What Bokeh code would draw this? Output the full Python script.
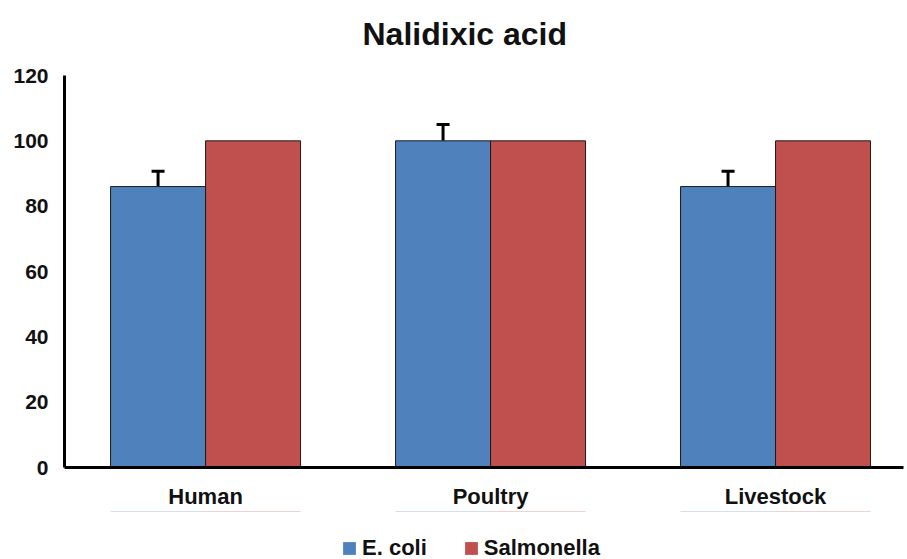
from bokeh.plotting import figure
from bokeh.layouts import column
from bokeh.models import Range1d, FixedTicker, ColumnDataSource, Whisker, TeeHead, Legend, LegendItem, Title
from bokeh.embed import file_html
from bokeh.resources import INLINE

categories = ["Human", "Poultry", "Livestock"]
series_names = ["E. coli", "Salmonella"]
ecoli = [86, 100, 86]
ecoli_err = [4.7, 5.0, 4.7]
salmonella = [100, 100, 100]
y_ticks = [0, 20, 40, 60, 80, 100, 120]

colors = ["#4F81BD", "#C0504D"]
FONT = "Liberation Sans"

idx = list(range(len(categories)))
bw = 1/3.0

p = figure(frame_width=839, frame_height=392, output_backend="svg", toolbar_location=None,
           x_range=Range1d(-0.495, 2.449), y_range=Range1d(0, 120),
           min_border_left=64, min_border_right=4, min_border_top=75,
           min_border_bottom=0)

spacer = Title(text=" ", text_font_size="8px", standoff=0)
p.add_layout(spacer, "above")

p.title.text = "Nalidixic acid"
p.title.align = "left"
p.title.offset = 298
p.title.vertical_align = "top"
p.title.text_font = FONT
p.title.text_font_size = "32px"
p.title.text_font_style = "bold"
p.title.text_color = "#111111"
p.title.standoff = 21

src_e = ColumnDataSource(dict(x=[i - bw/2 for i in idx], top=ecoli,
                              upper=[v + e for v, e in zip(ecoli, ecoli_err)]))
src_s = ColumnDataSource(dict(x=[i + bw/2 for i in idx], top=salmonella))

p.vbar(x="x", top="top", width=bw, source=src_e, fill_color=colors[0],
       line_color="#1a1a1a", line_width=1)
p.vbar(x="x", top="top", width=bw, source=src_s, fill_color=colors[1],
       line_color="#1a1a1a", line_width=1)

w = Whisker(source=src_e, base="x", lower="top", upper="upper",
            line_color="black", line_width=3, lower_head=None,
            upper_head=TeeHead(size=13, line_width=3, line_color="black"))
p.add_layout(w)

p.xgrid.visible = False
p.ygrid.visible = False
p.outline_line_color = None

p.yaxis.ticker = FixedTicker(ticks=y_ticks)
p.yaxis.major_tick_line_color = None
p.yaxis.minor_tick_line_color = None
p.yaxis.axis_line_width = 3
p.yaxis.axis_line_color = "black"
p.yaxis.major_label_standoff = 10
p.yaxis.major_label_text_font = FONT
p.yaxis.major_label_text_font_size = "21px"
p.yaxis.major_label_text_font_style = "bold"
p.yaxis.major_label_text_color = "#111111"

p.xaxis.ticker = FixedTicker(ticks=idx)
p.xaxis.major_label_overrides = {i: c for i, c in zip(idx, categories)}
p.xaxis.major_tick_line_color = None
p.xaxis.minor_tick_line_color = None
p.xaxis.axis_line_width = 3
p.xaxis.axis_line_color = "black"
p.xaxis.major_label_standoff = 10
p.xaxis.major_label_text_font = FONT
p.xaxis.major_label_text_font_size = "22px"
p.xaxis.major_label_text_font_style = "bold"
p.xaxis.major_label_text_color = "#111111"

# legend strip below the chart (its frame is aligned with the chart's frame)
p2 = figure(width=907, height=50, output_backend="svg", toolbar_location=None,
            x_range=Range1d(-0.495, 2.449), y_range=Range1d(-3, -2),
            min_border_left=64, min_border_right=4, min_border_top=0, min_border_bottom=0)
p2.axis.visible = False
p2.xgrid.visible = False
p2.ygrid.visible = False
p2.outline_line_color = None
# same data as the chart; the bars lie outside this strip's range, only the legend shows
g1 = p2.vbar(x="x", top="top", width=bw, source=src_e, fill_color=colors[0], line_color=None)
g2 = p2.vbar(x="x", top="top", width=bw, source=src_s, fill_color=colors[1], line_color=None)

legend = Legend(items=[LegendItem(label=series_names[0], renderers=[g1]),
                       LegendItem(label=series_names[1], renderers=[g2])],
                orientation="horizontal", location=(277, 0),
                border_line_color=None, background_fill_alpha=0,
                label_text_font=FONT, label_text_font_size="22px",
                label_text_font_style="bold", label_text_color="#111111",
                glyph_width=16, glyph_height=16, spacing=36, label_standoff=5,
                padding=0, margin=0)
p2.add_layout(legend)

layout = column(p, p2, spacing=0)
open("out.html", "w").write(file_html(layout, INLINE))
